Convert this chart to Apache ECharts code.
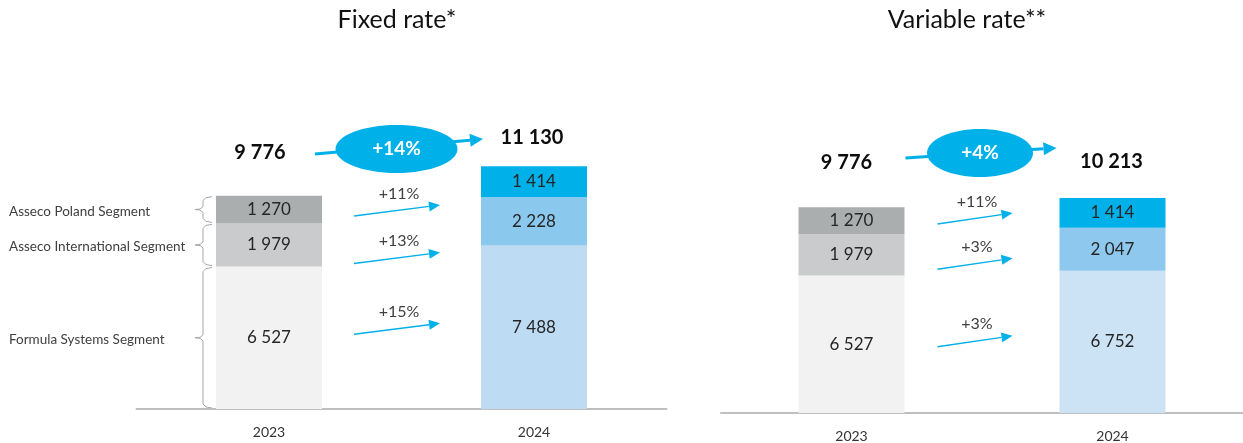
<!DOCTYPE html>
<html>
<head>
<meta charset="utf-8">
<script src="https://cdn.jsdelivr.net/npm/echarts@6/dist/echarts.min.js"></script>
<style>
html, body { margin: 0; padding: 0; background: #fff; }
#chart { width: 1243px; height: 443px; }
</style>
</head>
<body>
<div id="chart"></div>
<script>
// --- data ---
var years = ['2023', '2024']
var segments = ['Formula Systems Segment', 'Asseco International Segment', 'Asseco Poland Segment']
var panelTitles = ['Fixed rate*', 'Variable rate**']

var fixedFormula = [6527, 7488]
var fixedInternational = [1979, 2228]
var fixedPoland = [1270, 1414]

var variableFormula = [6527, 6752]
var variableInternational = [1979, 2047]
var variablePoland = [1270, 1414]

// growth labels, same order as segments
var fixedGrowth = ['+15%', '+13%', '+11%']
var variableGrowth = ['+3%', '+3%', '+11%']
var fixedTotalGrowth = '+14%'
var variableTotalGrowth = '+4%'

// --- look ---
var FONT = 'Lato, "Open Sans", sans-serif'
var BLUE = '#00b0e8'
var colors2023 = ['#f2f2f2', '#c9cbcc', '#abaeaf']

var panels = [
  {
    title: panelTitles[0],
    values: [fixedFormula, fixedInternational, fixedPoland],
    growth: fixedGrowth,
    totalGrowth: fixedTotalGrowth,
    colors2024: ['#bddcf4', '#8bc8ee', BLUE],
    grid: { left: 136.5, width: 530, top: 103.5, bottom: 34 },
    titleX: 397,
    totalOffset: [[-9, -43], [-2, -29]],
    bigArrow: { dx1: 46, y1: 154, dx2: -51, y2: 139, cy: 149, dcx: -5, rx: 61 },
    arrowX: [85, 171],
    arrowDy: [-9, 13, 1],
    braces: true
  },
  {
    title: panelTitles[1],
    values: [variableFormula, variableInternational, variablePoland],
    growth: variableGrowth,
    totalGrowth: variableTotalGrowth,
    colors2024: ['#cce3f6', '#8ec8ef', BLUE],
    grid: { left: 721, width: 530, top: 118.2, bottom: 29.5 },
    titleX: 967,
    totalOffset: [[-5, -45], [-1, -36]],
    bigArrow: { dx1: 54, y1: 158, dx2: -56, y2: 148, cy: 153, dcx: -2, rx: 53 },
    arrowX: [86, 161],
    arrowDy: [-3, 9, -2],
    braces: false
  }
]

function fmt (v) {
  return String(v).replace(/\B(?=(\d{3})+(?!\d))/g, ' ')
}

var chart = echarts.init(document.getElementById('chart'))

var grids = []
var xAxes = []
var yAxes = []
var series = []
panels.forEach(function (p, pi) {
  grids.push(p.grid)
  xAxes.push({
    type: 'category',
    gridIndex: pi,
    data: years,
    axisLine: { lineStyle: { color: '#bfbfbf', width: 2 } },
    axisTick: { show: false },
    axisLabel: { color: '#333', fontSize: 14, fontFamily: FONT, margin: 16 }
  })
  yAxes.push({ type: 'value', gridIndex: pi, min: 0, max: 14000, show: false, splitLine: { show: false } })
  p.values.forEach(function (vals, si) {
    series.push({
      type: 'bar',
      name: segments[si],
      xAxisIndex: pi,
      yAxisIndex: pi,
      stack: 'panel' + pi,
      barWidth: 106,
      silent: true,
      data: vals.map(function (v, i) {
        return { value: v, itemStyle: { color: i === 0 ? colors2023[si] : p.colors2024[si] } }
      }),
      label: {
        show: true,
        position: 'inside',
        formatter: function (d) { return fmt(d.value) },
        fontSize: 17,
        fontFamily: FONT,
        color: '#262626'
      }
    })
  })
})

chart.setOption({
  animation: false,
  grid: grids,
  xAxis: xAxes,
  yAxis: yAxes,
  series: series
})

// arrow = line + filled triangle head
function arrow (x1, y1, x2, y2, lw, headLen, headHalf) {
  var ang = Math.atan2(y2 - y1, x2 - x1)
  var bx = x2 - Math.cos(ang) * headLen
  var by = y2 - Math.sin(ang) * headLen
  var nx = -Math.sin(ang) * headHalf
  var ny = Math.cos(ang) * headHalf
  return [
    { type: 'line', shape: { x1: x1, y1: y1, x2: bx, y2: by }, style: { stroke: BLUE, lineWidth: lw } },
    { type: 'polygon', shape: { points: [[x2, y2], [bx + nx, by + ny], [bx - nx, by - ny]] }, style: { fill: BLUE } }
  ]
}

var gfx = []
panels.forEach(function (p, pi) {
  var px = function (cat, val) { return chart.convertToPixel({ gridIndex: pi }, [cat, val]) }
  var totals = years.map(function (y, i) {
    return p.values.reduce(function (s, arr) { return s + arr[i] }, 0)
  })
  var c0 = px(0, 0)[0]
  var c1 = px(1, 0)[0]

  // panel title
  gfx.push({ type: 'text', x: p.titleX, y: 20, style: { text: p.title, font: '25px ' + FONT, fill: '#111', align: 'center', verticalAlign: 'middle' } })

  // totals above the bars
  totals.forEach(function (t, i) {
    var top = px(i, t)
    gfx.push({
      type: 'text', x: top[0] + p.totalOffset[i][0], y: top[1] + p.totalOffset[i][1],
      style: { text: fmt(t), font: 'bold 20px ' + FONT, fill: '#0d0d0d', align: 'center', verticalAlign: 'middle' }
    })
  })

  // big arrow with ellipse
  var b = p.bigArrow
  gfx = gfx.concat(arrow(c0 + b.dx1, b.y1, c1 + b.dx2, b.y2, 3, 13, 6.5))
  var ex = (c0 + c1) / 2 + b.dcx
  gfx.push({ type: 'ellipse', shape: { cx: ex, cy: b.cy, rx: b.rx, ry: 24 }, style: { fill: BLUE } })
  gfx.push({ type: 'text', x: ex, y: b.cy, style: { text: p.totalGrowth, font: 'bold 19px ' + FONT, fill: '#fff', align: 'center', verticalAlign: 'middle' } })

  // per-segment arrows
  var cum = 0
  p.values.forEach(function (vals, si) {
    var lo = cum
    cum += vals[0]
    var yTop = px(0, cum)[1]
    var yBot = px(0, lo)[1]
    var mid = (yTop + yBot) / 2
    var ay = mid + p.arrowDy[si]
    var xa = c0 + p.arrowX[0]
    var xb = c0 + p.arrowX[1]
    gfx = gfx.concat(arrow(xa, ay + 5.5, xb, ay - 5.5, 1.4, 11, 5))
    gfx.push({
      type: 'text', x: (xa + xb) / 2 + 2, y: ay - 17,
      style: { text: p.growth[si], font: '16px ' + FONT, fill: '#404040', align: 'center', verticalAlign: 'middle' }
    })

    if (p.braces) {
      var xv = c0 - 66
      var xt = c0 - 57
      var xk = c0 - 74
      var t = yTop + 1
      var bt = yBot - 1
      gfx.push({
        type: 'polyline',
        shape: { points: [[xt, t], [xv + 3, t + 1], [xv, t + 4], [xv, mid - 3], [xv - 3, mid - 0.5], [xk, mid], [xv - 3, mid + 0.5], [xv, mid + 3], [xv, bt - 4], [xv + 3, bt - 1], [xt, bt]] },
        style: { stroke: '#a6a6a6', lineWidth: 1, fill: null }
      })
      gfx.push({
        type: 'text', x: 9, y: mid + 2,
        style: { text: segments[si], font: '13.5px ' + FONT, fill: '#404040', align: 'left', verticalAlign: 'middle' }
      })
    }
  })
})

chart.setOption({ graphic: { elements: gfx } })
</script>
</body>
</html>
